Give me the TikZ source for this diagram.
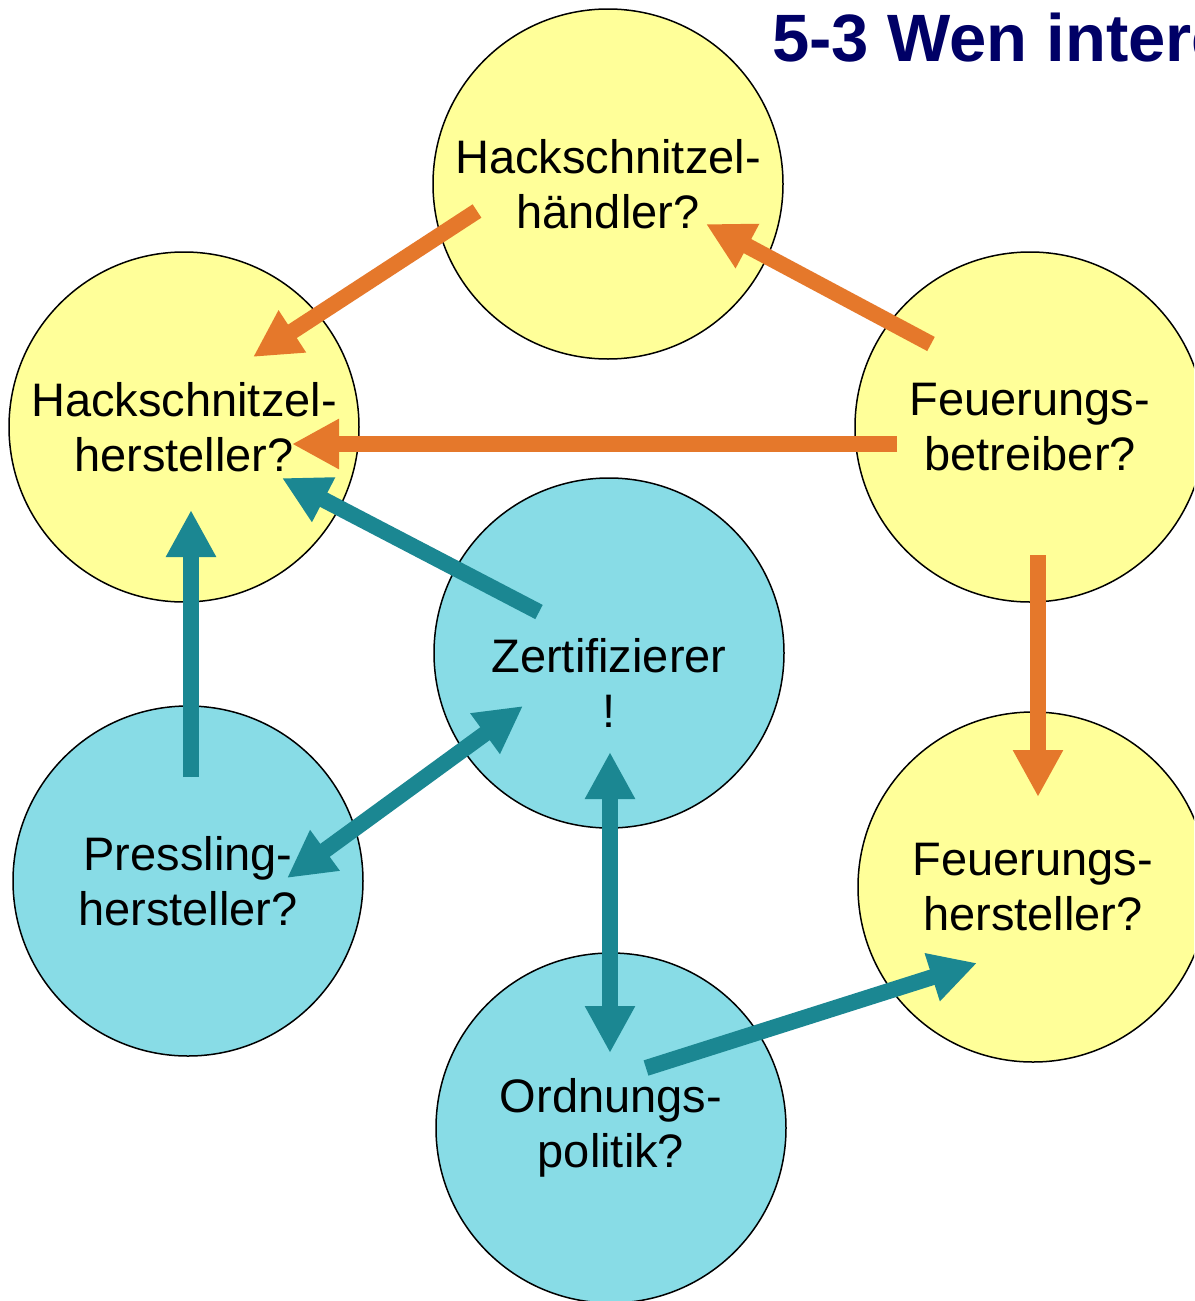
\documentclass[tikz,border=0pt]{standalone}
\usepackage{fontspec}
\setmainfont{Liberation Sans}
\usetikzlibrary{arrows.meta}
\definecolor{bubbleyellow}{HTML}{FFFF99}
\definecolor{bubblecyan}{HTML}{88DCE6}
\definecolor{arroworange}{HTML}{E5782B}
\definecolor{arrowteal}{HTML}{1B8792}
\definecolor{titlenavy}{HTML}{000066}
\tikzset{
  bubble/.style={circle, draw=black, line width=1.5pt, minimum size=350pt, inner sep=0pt,
    align=center, font=\fontsize{47}{55}\selectfont},
  yel/.style={bubble, fill=bubbleyellow},
  cya/.style={bubble, fill=bubblecyan},
  bubbletext/.style={align=center, font=\fontsize{47}{55}\selectfont, inner sep=0pt},
  fat/.style={line width=16pt, -{Triangle[width=47pt,length=47pt]}},
  fatboth/.style={line width=16pt, {Triangle[width=47pt,length=47pt]}-{Triangle[width=47pt,length=47pt]}},
  org/.style={fat, draw=arroworange, fill=arroworange},
  tea/.style={fat, draw=arrowteal, fill=arrowteal},
  teaboth/.style={fatboth, draw=arrowteal, fill=arrowteal},
}
\begin{document}
\begin{tikzpicture}[x=1pt, y=-1pt]
\useasboundingbox (0,0) rectangle (1194,1301);
\clip (0,0) rectangle (1194,1301);
\fill[white] (0,0) rectangle (1194,1301);

% title
\node[anchor=base west, inner sep=0pt, text=titlenavy, font=\fontsize{67}{70}\selectfont\bfseries] (title) at (772,61) {5-3 Wen intere};

% bubbles
\node[yel] (haendler) at (608,184) {Hackschnitzel-\\händler?};
\node[yel] (herst) at (184,427) {Hackschnitzel-\\hersteller?};
\node[yel] (betr) at (1030,427) {Feuerungs-\\betreiber?};
\node[yel] (fhst) at (1033,887) {Feuerungs-\\hersteller?};
\node[cya] (zert) at (609,653) {};
\node[bubbletext] (zerttext) at (609,683) {Zertifizierer\\!};
\node[cya] (press) at (188,881) {Pressling-\\hersteller?};
\node[cya] (ord) at (611,1128) {Ordnungs-\\politik?};

% connector ends
\coordinate (a1s) at (477,211);  \coordinate (a1e) at (253,357);
\coordinate (a2s) at (931,344);  \coordinate (a2e) at (706,224);
\coordinate (a3s) at (897,444);  \coordinate (a3e) at (292,444);
\coordinate (a4s) at (1038,555); \coordinate (a4e) at (1038,797);
\coordinate (a5s) at (539,612);  \coordinate (a5e) at (282,478);
\coordinate (a6s) at (191,777);  \coordinate (a6e) at (191,510);
\coordinate (a7s) at (287,878);  \coordinate (a7e) at (523,706);
\coordinate (a8s) at (610,752);  \coordinate (a8e) at (610,1053);
\coordinate (a9s) at (646,1068); \coordinate (a9e) at (977,963);

% orange arrows
\draw[org] (a1s) -- (a1e);
\draw[org] (a2s) -- (a2e);
\draw[org] (a3s) -- (a3e);
\draw[org] (a4s) -- (a4e);
% teal arrows
\draw[tea] (a5s) -- (a5e);
\draw[tea] (a6s) -- (a6e);
\draw[teaboth] (a7s) -- (a7e);
\draw[teaboth] (a8s) -- (a8e);
\draw[tea] (a9s) -- (a9e);
\end{tikzpicture}
\end{document}
